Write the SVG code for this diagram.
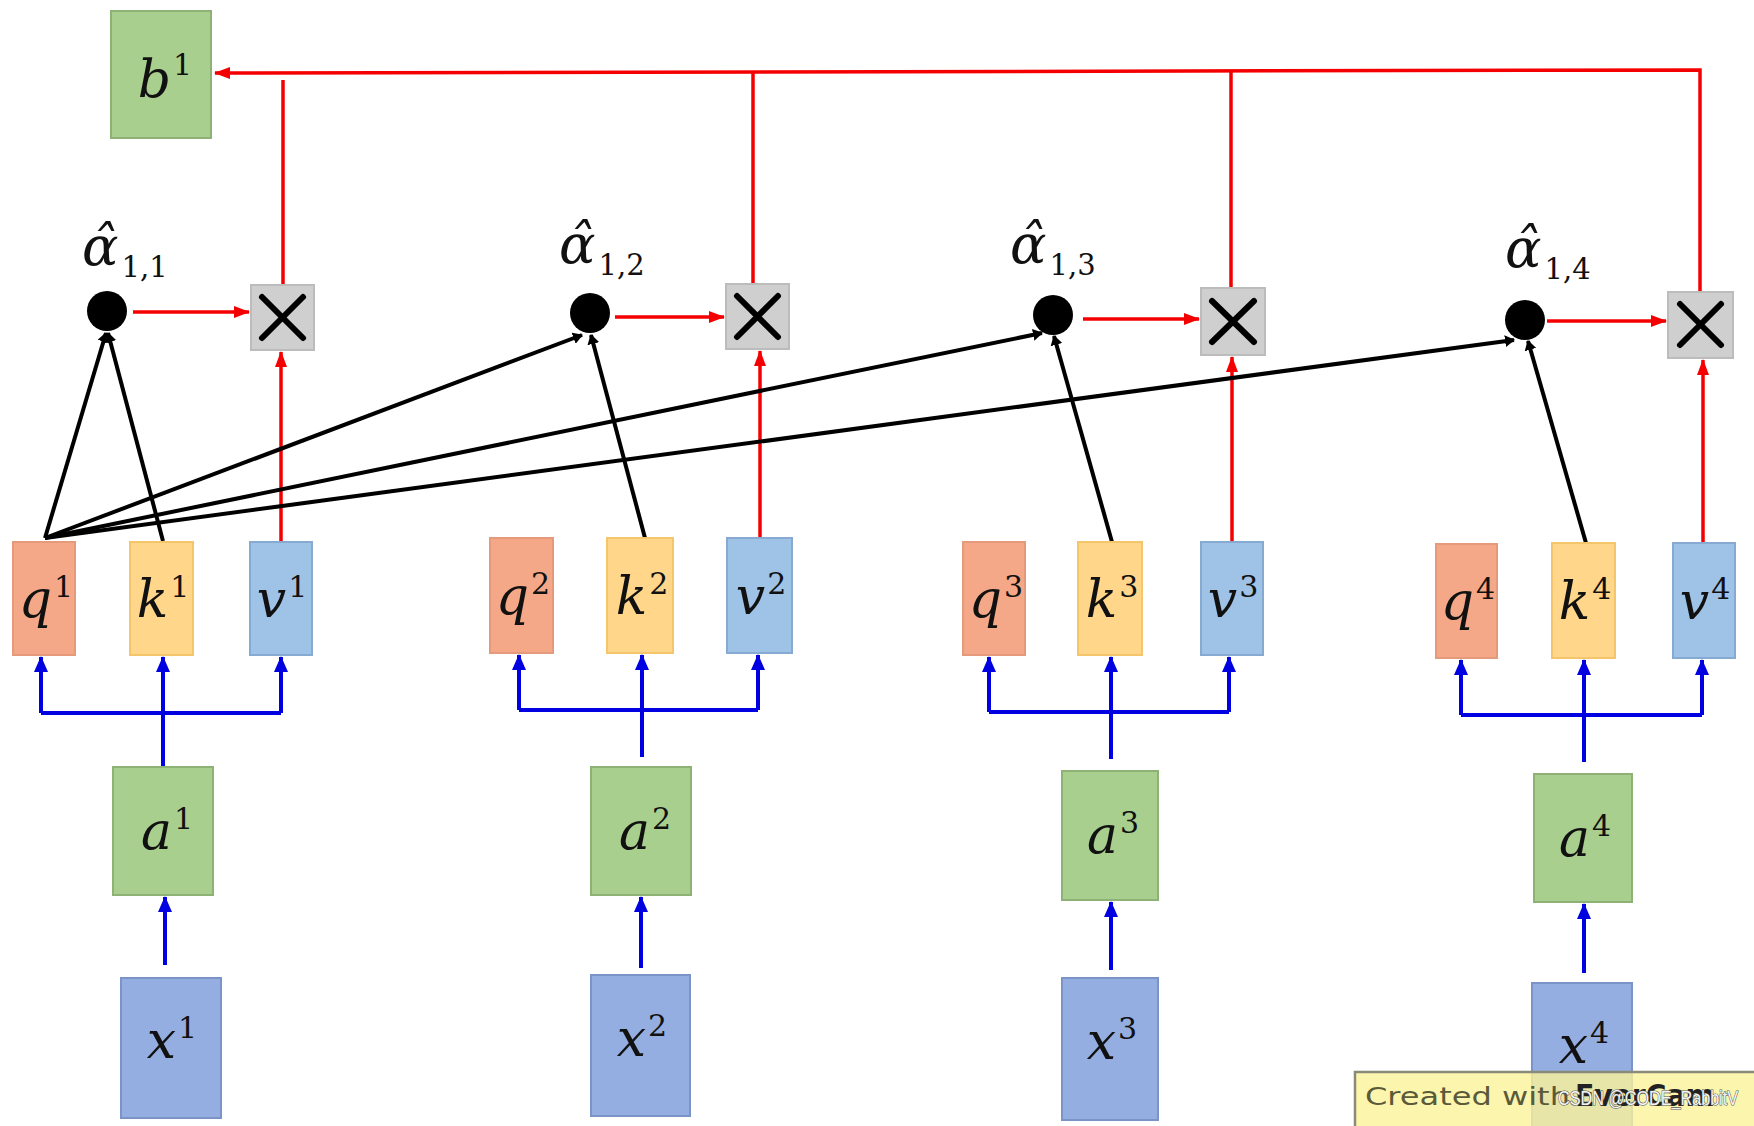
<svg xmlns="http://www.w3.org/2000/svg" width="1754" height="1126" viewBox="0 0 1754 1126">
<defs>
<style>
.box{stroke-width:2}
.q{fill:#f5a887;stroke:#e59a7c}
.k{fill:#ffd68a;stroke:#f4c56a}
.v{fill:#9fc2e7;stroke:#86aad2}
.a{fill:#a9cf8f;stroke:#8eb276}
.x{fill:#94aee2;stroke:#7a93c8}
.b{fill:#a9cf8f;stroke:#8eb276}
.t{fill:#cfcfcf;stroke:#bcbcbc}
.xm{stroke:#000;stroke-width:6;stroke-linecap:round}
.m{font-family:"DejaVu Serif","Liberation Serif",serif;font-style:italic;font-size:52px;fill:#111}
.s{font-family:"DejaVu Serif","Liberation Serif",serif;font-style:normal;font-size:30px;fill:#111}
.al{font-family:"DejaVu Serif","Liberation Serif",serif;font-style:italic;font-size:54px;fill:#111}
.sub{font-family:"DejaVu Serif","Liberation Serif",serif;font-style:normal;font-size:29px;fill:#111}
.rd{stroke:#f40000;stroke-width:3.5;fill:none}
.bl{stroke:#0000e0;stroke-width:4;fill:none}
.bk{stroke:#000;stroke-width:4;fill:none}
</style>
<marker id="ar" markerUnits="userSpaceOnUse" markerWidth="16" markerHeight="14" viewBox="0 0 16 14" refX="15" refY="7" orient="auto"><path d="M0,1 L16,7 L0,13 z" fill="#f40000"/></marker>
<marker id="ab" markerUnits="userSpaceOnUse" markerWidth="16" markerHeight="16" viewBox="0 0 16 16" refX="15" refY="8" orient="auto"><path d="M0,1 L16,8 L0,15 z" fill="#0000e0"/></marker>
<marker id="ak" markerUnits="userSpaceOnUse" markerWidth="10" markerHeight="12" viewBox="0 0 10 12" refX="9" refY="6" orient="auto"><path d="M0,0 L10,6 L0,12 z" fill="#000"/></marker>
</defs>
<rect width="1754" height="1126" fill="#ffffff"/>

<g id="connectors">
  <polyline class="rd" points="1700,292 1700,70 215,73" marker-end="url(#ar)"/>
  <line class="rd" x1="1231" y1="288" x2="1231" y2="71"/>
  <line class="rd" x1="753" y1="284" x2="753" y2="72"/>
  <line class="rd" x1="283" y1="285" x2="283" y2="80"/>
  <line class="rd" x1="133" y1="312" x2="249" y2="312" marker-end="url(#ar)"/>
  <line class="rd" x1="615" y1="317" x2="724" y2="317" marker-end="url(#ar)"/>
  <line class="rd" x1="1083" y1="319" x2="1199" y2="319" marker-end="url(#ar)"/>
  <line class="rd" x1="1547" y1="321" x2="1666" y2="321" marker-end="url(#ar)"/>
  <line class="rd" x1="281" y1="542" x2="281" y2="352" marker-end="url(#ar)"/>
  <line class="rd" x1="760" y1="538" x2="760" y2="351" marker-end="url(#ar)"/>
  <line class="rd" x1="1232" y1="542" x2="1232" y2="357" marker-end="url(#ar)"/>
  <line class="rd" x1="1703" y1="543" x2="1703" y2="360" marker-end="url(#ar)"/>
  <line class="bk" x1="45" y1="538" x2="106" y2="333" marker-end="url(#ak)"/>
  <line class="bk" x1="45" y1="538" x2="582" y2="335" marker-end="url(#ak)"/>
  <line class="bk" x1="45" y1="538" x2="1042" y2="333" marker-end="url(#ak)"/>
  <line class="bk" x1="45" y1="538" x2="1514" y2="340" marker-end="url(#ak)"/>
  <line class="bk" x1="163" y1="541" x2="108" y2="333" marker-end="url(#ak)"/>
  <line class="bk" x1="645" y1="538" x2="591" y2="335" marker-end="url(#ak)"/>
  <line class="bk" x1="1112" y1="542" x2="1054" y2="336" marker-end="url(#ak)"/>
  <line class="bk" x1="1586" y1="543" x2="1528" y2="341" marker-end="url(#ak)"/>

  <line class="bl" x1="41" y1="713" x2="281" y2="713"/>
  <line class="bl" x1="41" y1="713" x2="41" y2="657" marker-end="url(#ab)"/>
  <line class="bl" x1="281" y1="713" x2="281" y2="657" marker-end="url(#ab)"/>
  <line class="bl" x1="163" y1="766" x2="163" y2="657" marker-end="url(#ab)"/>

  <line class="bl" x1="519" y1="710" x2="758" y2="710"/>
  <line class="bl" x1="519" y1="710" x2="519" y2="655" marker-end="url(#ab)"/>
  <line class="bl" x1="758" y1="710" x2="758" y2="655" marker-end="url(#ab)"/>
  <line class="bl" x1="642" y1="757" x2="642" y2="655" marker-end="url(#ab)"/>

  <line class="bl" x1="989" y1="712" x2="1229" y2="712"/>
  <line class="bl" x1="989" y1="712" x2="989" y2="657" marker-end="url(#ab)"/>
  <line class="bl" x1="1229" y1="712" x2="1229" y2="657" marker-end="url(#ab)"/>
  <line class="bl" x1="1111" y1="759" x2="1111" y2="657" marker-end="url(#ab)"/>

  <line class="bl" x1="1461" y1="715" x2="1702" y2="715"/>
  <line class="bl" x1="1461" y1="715" x2="1461" y2="660" marker-end="url(#ab)"/>
  <line class="bl" x1="1702" y1="715" x2="1702" y2="660" marker-end="url(#ab)"/>
  <line class="bl" x1="1584" y1="762" x2="1584" y2="660" marker-end="url(#ab)"/>

  <line class="bl" x1="165" y1="965" x2="165" y2="897" marker-end="url(#ab)"/>
  <line class="bl" x1="641" y1="968" x2="641" y2="897" marker-end="url(#ab)"/>
  <line class="bl" x1="1111" y1="970" x2="1111" y2="902" marker-end="url(#ab)"/>
  <line class="bl" x1="1584" y1="973" x2="1584" y2="904" marker-end="url(#ab)"/>
</g>

<g id="b1"><rect class="box b" x="111" y="11" width="100" height="127"/><text x="165" y="97" text-anchor="middle"><tspan class="m">b</tspan><tspan class="s" dx="2" dy="-22">1</tspan></text></g>

<g id="dot1"><circle cx="107" cy="311" r="20" fill="#000"/><text x="82" y="265"><tspan class="al">α̂</tspan><tspan class="sub" dx="3" dy="12">1,1</tspan></text></g>
<g id="mul1"><rect class="box t" x="251" y="285" width="63" height="65"/><line class="xm" x1="262" y1="297" x2="303" y2="338"/><line class="xm" x1="303" y1="297" x2="262" y2="338"/></g>
<g id="q1"><rect class="box q" x="13" y="542" width="62" height="113"/><text x="46" y="617" text-anchor="middle"><tspan class="m">q</tspan><tspan class="s" dx="2" dy="-20">1</tspan></text></g>
<g id="k1"><rect class="box k" x="130" y="542" width="63" height="113"/><text x="163" y="617" text-anchor="middle"><tspan class="m">k</tspan><tspan class="s" dx="2" dy="-20">1</tspan></text></g>
<g id="v1"><rect class="box v" x="250" y="542" width="62" height="113"/><text x="282" y="617" text-anchor="middle"><tspan class="m">v</tspan><tspan class="s" dx="2" dy="-20">1</tspan></text></g>
<g id="a1"><rect class="box a" x="113" y="767" width="100" height="128"/><text x="167" y="849" text-anchor="middle"><tspan class="m">a</tspan><tspan class="s" dx="2" dy="-20">1</tspan></text></g>
<g id="x1"><rect class="box x" x="121" y="978" width="100" height="140"/><text x="172" y="1058" text-anchor="middle"><tspan class="m">x</tspan><tspan class="s" dx="2" dy="-20">1</tspan></text></g>

<g id="dot2"><circle cx="590" cy="313" r="20" fill="#000"/><text x="559" y="263"><tspan class="al">α̂</tspan><tspan class="sub" dx="3" dy="12">1,2</tspan></text></g>
<g id="mul2"><rect class="box t" x="726" y="284" width="63" height="65"/><line class="xm" x1="737" y1="296" x2="778" y2="337"/><line class="xm" x1="778" y1="296" x2="737" y2="337"/></g>
<g id="q2"><rect class="box q" x="490" y="538" width="63" height="115"/><text x="523" y="614" text-anchor="middle"><tspan class="m">q</tspan><tspan class="s" dx="2" dy="-20">2</tspan></text></g>
<g id="k2"><rect class="box k" x="607" y="538" width="66" height="115"/><text x="642" y="614" text-anchor="middle"><tspan class="m">k</tspan><tspan class="s" dx="2" dy="-20">2</tspan></text></g>
<g id="v2"><rect class="box v" x="727" y="538" width="65" height="115"/><text x="761" y="614" text-anchor="middle"><tspan class="m">v</tspan><tspan class="s" dx="2" dy="-20">2</tspan></text></g>
<g id="a2"><rect class="box a" x="591" y="767" width="100" height="128"/><text x="645" y="849" text-anchor="middle"><tspan class="m">a</tspan><tspan class="s" dx="2" dy="-20">2</tspan></text></g>
<g id="x2"><rect class="box x" x="591" y="975" width="99" height="141"/><text x="642" y="1056" text-anchor="middle"><tspan class="m">x</tspan><tspan class="s" dx="2" dy="-20">2</tspan></text></g>

<g id="dot3"><circle cx="1053" cy="315" r="20" fill="#000"/><text x="1010" y="263"><tspan class="al">α̂</tspan><tspan class="sub" dx="3" dy="12">1,3</tspan></text></g>
<g id="mul3"><rect class="box t" x="1201" y="288" width="64" height="67"/><line class="xm" x1="1212" y1="301" x2="1254" y2="342"/><line class="xm" x1="1254" y1="301" x2="1212" y2="342"/></g>
<g id="q3"><rect class="box q" x="963" y="542" width="62" height="113"/><text x="996" y="617" text-anchor="middle"><tspan class="m">q</tspan><tspan class="s" dx="2" dy="-20">3</tspan></text></g>
<g id="k3"><rect class="box k" x="1078" y="542" width="64" height="113"/><text x="1112" y="617" text-anchor="middle"><tspan class="m">k</tspan><tspan class="s" dx="2" dy="-20">3</tspan></text></g>
<g id="v3"><rect class="box v" x="1201" y="542" width="62" height="113"/><text x="1233" y="617" text-anchor="middle"><tspan class="m">v</tspan><tspan class="s" dx="2" dy="-20">3</tspan></text></g>
<g id="a3"><rect class="box a" x="1062" y="771" width="96" height="129"/><text x="1113" y="853" text-anchor="middle"><tspan class="m">a</tspan><tspan class="s" dx="2" dy="-20">3</tspan></text></g>
<g id="x3"><rect class="box x" x="1062" y="978" width="96" height="142"/><text x="1112" y="1059" text-anchor="middle"><tspan class="m">x</tspan><tspan class="s" dx="2" dy="-20">3</tspan></text></g>

<g id="dot4"><circle cx="1525" cy="320" r="20" fill="#000"/><text x="1505" y="267"><tspan class="al">α̂</tspan><tspan class="sub" dx="3" dy="12">1,4</tspan></text></g>
<g id="mul4"><rect class="box t" x="1668" y="292" width="65" height="66"/><line class="xm" x1="1680" y1="304" x2="1721" y2="345"/><line class="xm" x1="1721" y1="304" x2="1680" y2="345"/></g>
<g id="q4"><rect class="box q" x="1436" y="544" width="61" height="114"/><text x="1468" y="619" text-anchor="middle"><tspan class="m">q</tspan><tspan class="s" dx="2" dy="-20">4</tspan></text></g>
<g id="k4"><rect class="box k" x="1552" y="543" width="63" height="115"/><text x="1585" y="619" text-anchor="middle"><tspan class="m">k</tspan><tspan class="s" dx="2" dy="-20">4</tspan></text></g>
<g id="v4"><rect class="box v" x="1673" y="543" width="62" height="115"/><text x="1705" y="619" text-anchor="middle"><tspan class="m">v</tspan><tspan class="s" dx="2" dy="-20">4</tspan></text></g>
<g id="a4"><rect class="box a" x="1534" y="774" width="98" height="128"/><text x="1585" y="856" text-anchor="middle"><tspan class="m">a</tspan><tspan class="s" dx="2" dy="-20">4</tspan></text></g>
<g id="x4"><rect class="box x" x="1532" y="983" width="100" height="150"/><text x="1584" y="1063" text-anchor="middle"><tspan class="m">x</tspan><tspan class="s" dx="2" dy="-20">4</tspan></text></g>

<g id="evercam">
  <rect x="1355" y="1072" width="410" height="70" fill="#fbf29a" fill-opacity="0.8" stroke="#8a8a7a" stroke-width="2.5"/>
  <text x="1365" y="1105" font-family="'DejaVu Sans',sans-serif" font-size="25" fill="#5a5a3a" textLength="205" lengthAdjust="spacingAndGlyphs">Created with</text>
  <text x="1575" y="1106" font-family="'DejaVu Sans',sans-serif" font-size="30" font-weight="bold" fill="#222" textLength="140" lengthAdjust="spacingAndGlyphs">EverCam</text>
  <text x="1558" y="1105" font-family="'Liberation Sans',Arial,sans-serif" font-size="20" fill="#f4f4f4" stroke="#555" stroke-width="1.2" paint-order="stroke" textLength="180" lengthAdjust="spacingAndGlyphs">CSDN @CODE_RabbitV</text>
</g>
</svg>
